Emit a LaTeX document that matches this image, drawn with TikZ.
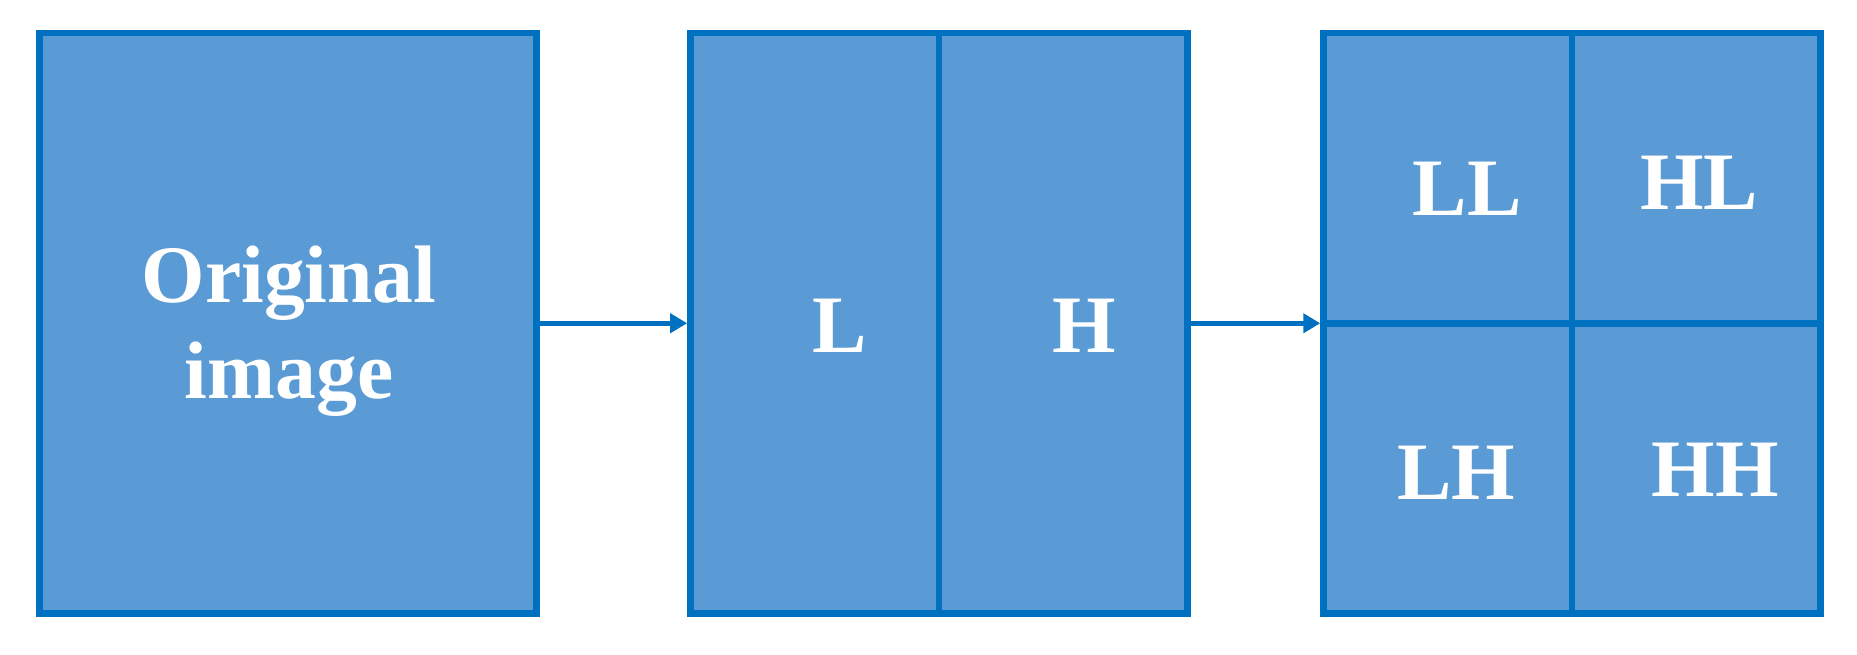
\documentclass[tikz,border=0pt]{standalone}
\usepackage{fontspec}
\setmainfont{Liberation Serif}
\usetikzlibrary{arrows.meta}
\definecolor{boxfill}{HTML}{5B9BD5}
\definecolor{boxline}{HTML}{0070C0}
\tikzset{
  panel/.style={rectangle, draw=boxline, fill=boxfill, line width=6.5pt, inner sep=0pt,
    minimum width=497pt, minimum height=580.5pt},
  divider/.style={draw=boxline, line width=6.5pt},
  arr/.style={draw=boxline, line width=5pt, -{Triangle[length=17pt,width=19pt]}},
  lbl/.style={text=white, font=\fontsize{81.6}{96}\selectfont\bfseries, inner sep=0pt}
}
\begin{document}
\begin{tikzpicture}[x=1pt,y=-1pt]
\useasboundingbox (0,0) rectangle (1857,655);
\node[panel] (b1) at (287.75,323.25) {};
\node[panel] (b2) at (938.9,323.25) {};
\node[panel] (b3) at (1572,323.25) {};
\draw[divider] (b2.north) -- (b2.south);
\draw[divider] (b3.north) -- (b3.south);
\draw[divider] (b3.west) -- (b3.east);
\draw[arr] (b1.east) -- (b2.west);
\draw[arr] (b2.east) -- (b3.west);
\node[lbl, align=center] (torig) at (289,331) {Original\\image};
\node[lbl, anchor=base] (tl) at (840,352) {L};
\node[lbl, anchor=base] (th) at (1084,352) {H};
\node[lbl, anchor=base] (tll) at (1467,215) {LL};
\node[lbl, anchor=base] (thl) at (1699,209) {HL};
\node[lbl, anchor=base] (tlh) at (1456,499) {LH};
\node[lbl, anchor=base] (thh) at (1715,496) {HH};
\end{tikzpicture}
\end{document}
